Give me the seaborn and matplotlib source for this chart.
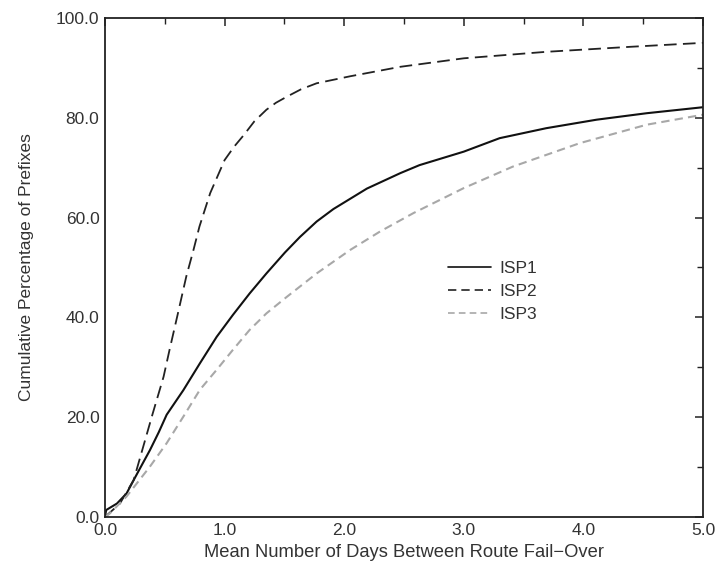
import numpy as np
import pandas as pd
import matplotlib
matplotlib.use("Agg")
import matplotlib.pyplot as plt
import seaborn as sns
from matplotlib.ticker import MultipleLocator, FormatStrFormatter

sns.set_theme(style="white")
plt.rcParams['font.family'] = ['Liberation Sans', 'DejaVu Sans']

isp1_x = [0.0, 0.01, 0.1, 0.18, 0.24, 0.31, 0.376, 0.45, 0.516, 0.655, 0.794, 0.934, 1.07, 1.21,
          1.35, 1.505, 1.63, 1.77, 1.91, 2.19, 2.47, 2.63, 3.0, 3.30, 3.69, 4.11, 4.53, 5.0]
isp1_y = [0.0, 1.4, 2.7, 4.7, 7.4, 10.5, 13.4, 17.0, 20.5, 25.4, 30.8, 36.1, 40.5, 44.8,
          48.8, 53.0, 56.1, 59.2, 61.7, 65.8, 68.9, 70.5, 73.2, 75.9, 77.9, 79.6, 80.9, 82.1]

isp2_x = [0.0, 0.125, 0.24, 0.32, 0.40, 0.49, 0.54, 0.61, 0.68, 0.74, 0.79, 0.88, 1.0, 1.08,
          1.16, 1.25, 1.35, 1.43, 1.52, 1.64, 1.77, 2.05, 2.47, 3.0, 3.69, 4.39, 5.0]
isp2_y = [0.0, 2.7, 7.4, 14.1, 20.8, 28.1, 33.5, 40.8, 48.2, 53.5, 58.2, 64.9, 71.5, 74.2,
          76.5, 79.3, 81.6, 83.0, 84.2, 85.7, 86.9, 88.3, 90.2, 91.9, 93.2, 94.2, 95.0]

isp3_x = [0.0, 0.04, 0.18, 0.376, 0.516, 0.655, 0.794, 0.934, 1.07, 1.21, 1.35, 1.52, 1.77,
          2.05, 2.30, 2.58, 3.0, 3.41, 3.97, 4.53, 5.0]
isp3_y = [0.0, 0.7, 4.1, 10.1, 14.8, 20.1, 25.5, 29.5, 33.5, 37.5, 40.8, 44.1, 48.8,
          53.5, 57.2, 60.9, 65.9, 70.2, 74.9, 78.6, 80.6]

fig = plt.figure(figsize=(7.17, 5.64), dpi=100)
ax = fig.add_axes([0.1464, 0.0833, 0.834, 0.885])

df1 = pd.DataFrame({"x": isp1_x, "y": isp1_y})
df2 = pd.DataFrame({"x": isp2_x, "y": isp2_y})
df3 = pd.DataFrame({"x": isp3_x, "y": isp3_y})

sns.lineplot(data=df1, x="x", y="y", ax=ax, color="#111111", linewidth=1.5,
             label="ISP1", sort=False)
sns.lineplot(data=df2, x="x", y="y", ax=ax, color="#222222", linewidth=1.3,
             label="ISP2", sort=False)
sns.lineplot(data=df3, x="x", y="y", ax=ax, color="#a8a8a8", linewidth=1.5,
             label="ISP3", sort=False)
ax.lines[1].set_dashes([7, 3.5])
ax.lines[2].set_dashes([4, 2.5])

ax.set_xlim(0, 5)
ax.set_ylim(0, 100)
ax.xaxis.set_major_locator(MultipleLocator(1.0))
ax.xaxis.set_minor_locator(MultipleLocator(0.5))
ax.yaxis.set_major_locator(MultipleLocator(20))
ax.yaxis.set_minor_locator(MultipleLocator(10))
ax.xaxis.set_major_formatter(FormatStrFormatter("%.1f"))
ax.yaxis.set_major_formatter(FormatStrFormatter("%.1f"))
ax.tick_params(which="both", direction="in", top=True, right=True, colors="#222222",
               labelcolor="#333333", labelsize=12.5)
ax.tick_params(which="major", length=6, width=1.1, pad=4)
ax.tick_params(which="minor", length=4, width=1.0)
for s in ax.spines.values():
    s.set_color("#222222")
    s.set_linewidth(1.3)

ax.set_xlabel("Mean Number of Days Between Route Fail\u2212Over", fontsize=13.2,
              color="#333333")
ax.set_ylabel("Cumulative Percentage of Prefixes", fontsize=12.5, color="#333333")
ax.xaxis.set_label_coords(0.5, -0.054)
ax.yaxis.set_label_coords(-0.118, 0.5)

leg = ax.legend(loc="upper left", bbox_to_anchor=(0.547, 0.545), frameon=False,
                fontsize=12.5, handlelength=2.5, handletextpad=0.45, labelspacing=0.45,
                labelcolor="#333333")
for h in leg.get_lines():
    h.set_linewidth(1.2)
leg.get_lines()[1].set_dashes([5, 3])
leg.get_lines()[2].set_dashes([4, 2.5])

fig.savefig("out.png", dpi=100)
